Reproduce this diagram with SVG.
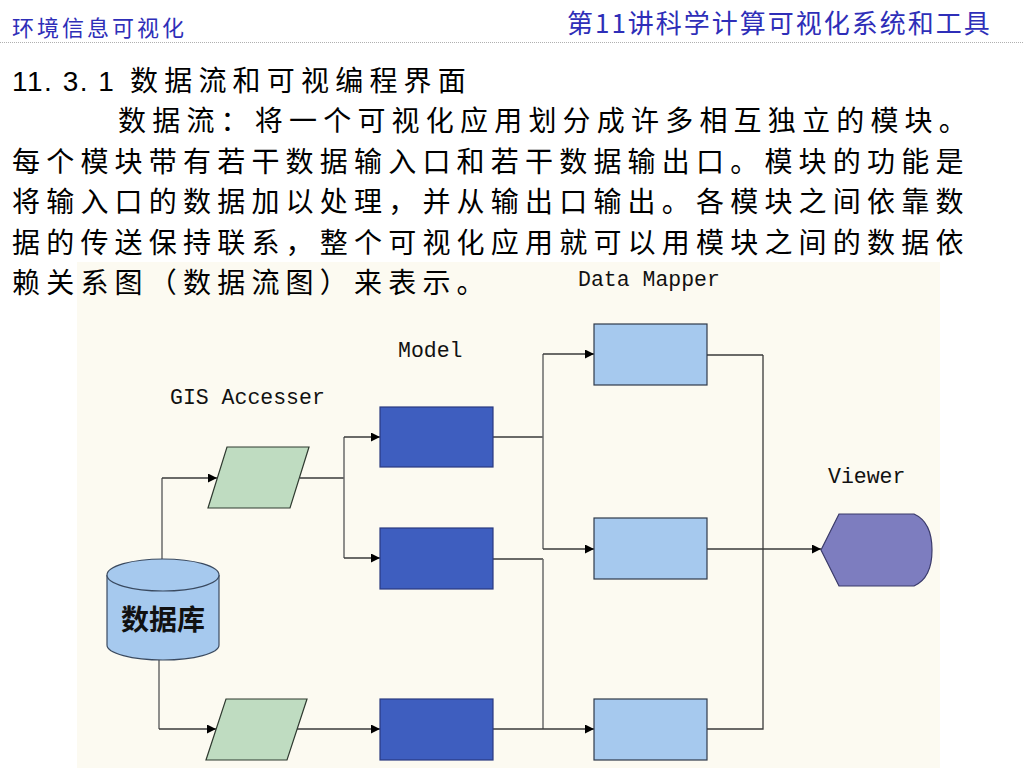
<svg xmlns="http://www.w3.org/2000/svg" width="1024" height="768" viewBox="0 0 1024 768">
<defs>
<style>
.hdr{font-family:"Noto Sans CJK SC","Noto Sans",sans-serif;fill:#2e2eb8;}
.body{font-family:"Noto Sans CJK SC",sans-serif;font-size:28px;fill:#000;letter-spacing:6.2px;}
.lbl{font-family:"Liberation Mono",monospace;font-size:21.5px;fill:#111;}
.model{fill:#3e5ebf;stroke:#2a3a80;stroke-width:1.2;}
.dm{fill:#a6c9ee;stroke:#2f3a4a;stroke-width:1.2;}
.acc{fill:#bfdcc1;stroke:#2f3a30;stroke-width:1.2;}
.conn{fill:none;stroke:#3a3a3a;stroke-width:1.3;}
.connv{fill:none;stroke:#6a6a6a;stroke-width:1.5;}
</style>
<marker id="ah" viewBox="0 0 10 10" refX="10" refY="5" markerWidth="10" markerHeight="9" markerUnits="userSpaceOnUse" orient="auto">
<path d="M0,0 L10,5 L0,10 Z" fill="#000"/>
</marker>
</defs>
<rect width="1024" height="768" fill="#fff"/>
<rect x="77" y="262" width="863" height="506" fill="#fcfaf1"/>
<g id="header">
<text class="hdr" x="12" y="36" font-size="22" letter-spacing="3">环境信息可视化</text>
<text class="hdr" x="567" y="33" font-size="26" letter-spacing="2">第11讲科学计算可视化系统和工具</text>
<line x1="0" y1="42.5" x2="1024" y2="42.5" stroke="#b0b0b0" stroke-width="1" stroke-dasharray="1,1"/>
</g>
<g id="bodytext">
<text x="12" y="91" font-family="Liberation Sans,Arial,sans-serif" font-size="28" letter-spacing="1.5" fill="#000">11. 3. 1</text>
<text class="body" x="130" y="91">数据流和可视编程界面</text>
<text class="body" x="118" y="131">数据流：将一个可视化应用划分成许多相互独立的模块。</text>
<text class="body" x="12" y="172">每个模块带有若干数据输入口和若干数据输出口。模块的功能是</text>
<text class="body" x="12" y="212">将输入口的数据加以处理，并从输出口输出。各模块之间依靠数</text>
<text class="body" x="12" y="253">据的传送保持联系，整个可视化应用就可以用模块之间的数据依</text>
<text class="body" x="12" y="293">赖关系图（数据流图）来表示。</text>
</g>
<g id="labels">
<text class="lbl" x="578" y="286">Data Mapper</text>
<text class="lbl" x="398" y="357">Model</text>
<text class="lbl" x="170" y="404">GIS Accesser</text>
<text class="lbl" x="828" y="483">Viewer</text>
</g>
<g id="connectors">
<path class="connv" d="M162,559 V478"/>
<path class="conn" d="M162,478 H217" marker-end="url(#ah)"/>
<path class="conn" d="M300,478 H344"/>
<path class="connv" d="M344,437 V558"/>
<path class="conn" d="M344,437 H380" marker-end="url(#ah)"/>
<path class="conn" d="M344,558 H380" marker-end="url(#ah)"/>
<path class="connv" d="M159,660 V729"/>
<path class="conn" d="M159,729 H216" marker-end="url(#ah)"/>
<path class="conn" d="M297,729 H380" marker-end="url(#ah)"/>
<path class="conn" d="M493,437 H543"/>
<path class="connv" d="M543,354 V549"/>
<path class="conn" d="M543,354 H594" marker-end="url(#ah)"/>
<path class="conn" d="M543,549 H594" marker-end="url(#ah)"/>
<path class="conn" d="M493,559 H543"/>
<path class="connv" d="M543,559 V729"/>
<path class="conn" d="M493,729 H594" marker-end="url(#ah)"/>
<path class="conn" d="M707,355 H763"/>
<path class="conn" d="M763,355 V729 H707"/>
<path class="conn" d="M707,549 H821" marker-end="url(#ah)"/>
</g>
<g id="database">
<path d="M107,575 V645 A56,15 0 0 0 219,645 V575" fill="#a6c9ee" stroke="#3a4a60" stroke-width="1.2"/>
<ellipse cx="163" cy="575" rx="56" ry="16" fill="#a6c9ee" stroke="#3a4a60" stroke-width="1.2"/>
<text x="163" y="630" text-anchor="middle" font-family="Noto Sans CJK SC,sans-serif" font-size="28" font-weight="bold" fill="#111">数据库</text>
</g>
<g id="gis1"><polygon class="acc" points="227,447 309,447 290,508 208,508"/></g>
<g id="gis2"><polygon class="acc" points="226,699 307,699 287,760 206,760"/></g>
<g id="model1"><rect class="model" x="380" y="407" width="113" height="60"/></g>
<g id="model2"><rect class="model" x="380" y="528" width="113" height="61"/></g>
<g id="model3"><rect class="model" x="380" y="699" width="113" height="61"/></g>
<g id="mapper1"><rect class="dm" x="594" y="324" width="113" height="61"/></g>
<g id="mapper2"><rect class="dm" x="594" y="518" width="113" height="61"/></g>
<g id="mapper3"><rect class="dm" x="594" y="699" width="113" height="61"/></g>
<g id="viewer"><path d="M821,550 L839,514 L914,514 Q932,522 932,550 Q932,578 914,586 L839,586 Z" fill="#7d7dbf" stroke="#3a3a6a" stroke-width="1.2"/></g>
</svg>
